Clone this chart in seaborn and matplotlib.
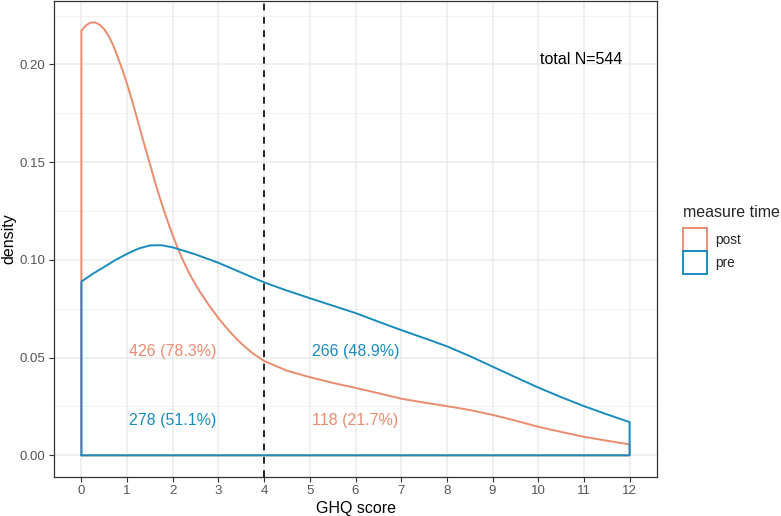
import matplotlib
matplotlib.use("Agg")
import matplotlib.pyplot as plt
import seaborn as sns
import pandas as pd
from matplotlib.patches import Patch

# ---------------------------------
# DATA
# ---------------------------------
post_score = [0, 0.1, 0.2, 0.3, 0.4, 0.5, 0.6, 0.7, 0.8, 0.9, 1.0, 1.1, 1.2,
              1.3, 1.4, 1.5, 1.6, 1.7, 1.8, 1.9, 2.0, 2.1, 2.2, 2.3, 2.4, 2.5,
              2.6, 2.8, 3.0, 3.25, 3.5, 3.75, 4.0, 4.5, 5.0, 5.5, 6.0, 6.5,
              7.0, 7.5, 8.0, 8.5, 9.0, 9.5, 10.0, 10.5, 11.0, 11.5, 12.0]
post_density = [0.2173, 0.2200, 0.2214, 0.2215, 0.2203, 0.2180, 0.2145, 0.2095,
                0.2035, 0.1970, 0.1900, 0.1822, 0.1740, 0.1655, 0.1572, 0.1490,
                0.1408, 0.1330, 0.1258, 0.1190, 0.1125, 0.1065, 0.1010, 0.0960,
                0.0915, 0.0873, 0.0835, 0.0765, 0.0702, 0.0632, 0.0572, 0.0522,
                0.0483, 0.0433, 0.0400, 0.0371, 0.0345, 0.0318, 0.0290, 0.0270,
                0.0252, 0.0232, 0.0207, 0.0178, 0.0146, 0.0120, 0.0095, 0.0075,
                0.0056]

pre_score = [0, 0.25, 0.5, 0.75, 1.0, 1.25, 1.5, 1.75, 2.0, 2.5, 3.0, 3.5, 4.0,
             4.5, 5.0, 5.5, 6.0, 6.5, 7.0, 7.5, 8.0, 8.5, 9.0, 9.5, 10.0, 10.5,
             11.0, 11.5, 12.0]
pre_density = [0.0889, 0.0929, 0.0964, 0.1000, 0.1031, 0.1058, 0.1074, 0.1075,
               0.1064, 0.1028, 0.0985, 0.0935, 0.0885, 0.0843, 0.0804, 0.0766,
               0.0728, 0.0684, 0.0641, 0.0600, 0.0558, 0.0508, 0.0454, 0.0400,
               0.0347, 0.0298, 0.0252, 0.0210, 0.0170]

groups = ["post", "pre"]
group_colors = ["#EC8B6E", "#188CBF"]
cutoff = 4

label_texts = ["426 (78.3%)", "278 (51.1%)", "266 (48.9%)", "118 (21.7%)"]
label_x = [2, 2, 6, 6]
label_y = [0.053, 0.018, 0.053, 0.018]
label_group = ["post", "pre", "pre", "post"]
total_text = "total N=544"

x_ticks = list(range(0, 13))
y_ticks = [0.00, 0.05, 0.10, 0.15, 0.20]
y_minor = [0.025, 0.075, 0.125, 0.175, 0.225]

# ---------------------------------
# STYLE
# ---------------------------------
sns.set_style("white")
plt.rcParams["font.family"] = ["Liberation Sans", "DejaVu Sans"]

fig = plt.figure(figsize=(7.81, 5.16), dpi=100)
ax = fig.add_axes([54 / 781, 39 / 516, (657 - 54) / 781, (516 - 39) / 516 - 0.001])

# grid lines (drawn behind)
for yv in y_minor:
    ax.axhline(yv, color="#F0F0F0", lw=0.6, zorder=0)
for yv in y_ticks:
    ax.axhline(yv, color="#EBEBEB", lw=1.1, zorder=0)
for xv in x_ticks:
    ax.axvline(xv, color="#EBEBEB", lw=1.1, zorder=0)

# ---------------------------------
# DENSITY OUTLINES (closed polygons, like geom_density)
# ---------------------------------
curves = {"post": (post_score, post_density), "pre": (pre_score, pre_density)}
for g, col in zip(groups, group_colors):
    xs, ys = curves[g]
    poly = pd.DataFrame({
        "score": [xs[0]] + xs + [xs[-1], xs[0]],
        "density": [0] + ys + [0, 0],
    })
    sns.lineplot(data=poly, x="score", y="density", sort=False, estimator=None,
                 color=col, lw=1.4, ax=ax, zorder=3)

ax.axvline(cutoff, color="black", lw=1.2, ls=(0, (4, 4)), zorder=4)

color_map = dict(zip(groups, group_colors))
for t, xv, yv, g in zip(label_texts, label_x, label_y, label_group):
    ax.text(xv, yv, t, color=color_map[g], fontsize=11.5, ha="center", va="center")
ax.text(10.95, 0.2025, total_text, color="black", fontsize=11.5, ha="center", va="center")

# ---------------------------------
# AXES
# ---------------------------------
ax.set_xlim(-0.6, 12.6)
ax.set_ylim(-0.01108, 0.2327)
ax.set_xticks(x_ticks)
ax.set_yticks(y_ticks)
ax.set_yticklabels([f"{v:.2f}" for v in y_ticks])
ax.tick_params(axis="both", direction="out", length=3.5, width=0.8, color="#333333",
               labelsize=9.5, labelcolor="#555555", pad=2.5, bottom=True, left=True)
ax.set_xlabel("GHQ score", fontsize=11.5, color="black", labelpad=3)
ax.set_ylabel("density", fontsize=11.5, color="black")
ax.yaxis.set_label_coords(-0.062, 0.5)
for s in ax.spines.values():
    s.set_color("#333333")
    s.set_linewidth(0.9)
    s.set_visible(True)

# legend like ggplot
handles = [Patch(facecolor="white", edgecolor=c, lw=1.4, label=g)
           for g, c in zip(groups, group_colors)]
leg = fig.legend(handles=handles, title="measure time", loc="upper left",
                 bbox_to_anchor=(680 / 781, 1 - 202 / 516), frameon=False,
                 fontsize=9.8, title_fontsize=11.5, handlelength=1.8,
                 handleheight=2.2, handletextpad=0.6, labelspacing=0.0,
                 alignment="left", borderaxespad=0, borderpad=0.2)
# a bit more room between legend title and keys
leg._legend_box.sep = 6

fig.savefig("out.png", dpi=100)
